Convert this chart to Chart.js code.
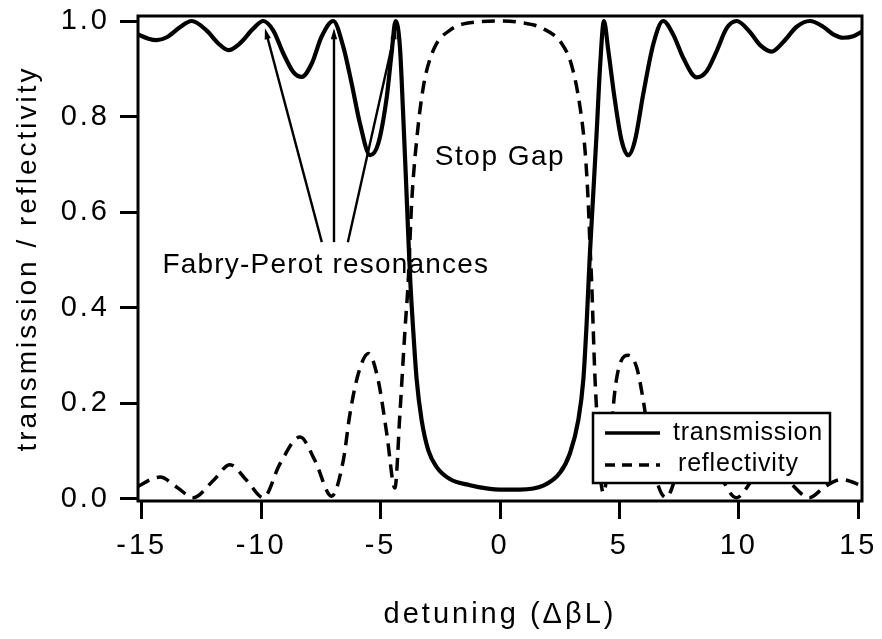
<!DOCTYPE html>
<html>
<head>
<meta charset="utf-8">
<title>transmission / reflectivity</title>
<script src="https://cdn.jsdelivr.net/npm/chart.js@4.4.1/dist/chart.umd.min.js"></script>
<style>
    html, body { margin: 0; padding: 0; background: #fff; }
    #wrap { width: 882px; height: 639px; }
</style>
</head>
<body>
<div id="wrap"><canvas id="fpChart" width="882" height="639"></canvas></div>
<script>
const xTicks = [-15, -10, -5, 0, 5, 10, 15];
const yTicks = [0, 0.2, 0.4, 0.6, 0.8, 1.0];

const seriesLabels = ["transmission", "reflectivity"];

// transmission (solid)
const transX = [-15.155, -15.07, -14.72, -14.37, -13.95, -13.4, -12.91, -12.28, -11.79, -11.37,
    -10.89, -10.33, -9.91, -9.49, -9.07, -8.65, -8.3, -7.88, -7.47, -6.98,
    -6.56, -6.21, -5.86, -5.44, -5.1, -4.74, -4.54, -4.37, -4.19, -4.05,
    -3.93, -3.84, -3.75, -3.63, -3.49, -3.28, -3.0, -2.65, -2.1, -1.26,
    -0.5, 0, 0.84, 1.81, 2.51, 2.93, 3.28, 3.49, 3.63, 3.76,
    3.9, 4.05, 4.19, 4.35, 4.53, 4.81, 5.09, 5.37, 5.65, 6.0,
    6.42, 6.83, 7.25, 7.67, 8.23, 8.65, 9.07, 9.49, 9.91, 10.46,
    10.88, 11.37, 11.86, 12.42, 12.97, 13.53, 13.95, 14.37, 14.79, 15.155];
const transY = [0.972, 0.970, 0.963, 0.960, 0.966, 0.987, 1.0, 0.980, 0.953, 0.939,
    0.953, 0.984, 1.0, 0.980, 0.932, 0.893, 0.883, 0.911, 0.967, 1.0,
    0.946, 0.869, 0.785, 0.719, 0.743, 0.841, 0.932, 1.0, 0.946, 0.80,
    0.66, 0.55, 0.45, 0.35, 0.25, 0.164, 0.101, 0.066, 0.041, 0.028,
    0.021, 0.019, 0.019, 0.027, 0.054, 0.095, 0.165, 0.25, 0.37, 0.51,
    0.635, 0.77, 0.905, 1.0, 0.94, 0.834, 0.75, 0.719, 0.75, 0.848,
    0.952, 1.0, 0.972, 0.923, 0.882, 0.895, 0.937, 0.985, 1.0, 0.977,
    0.95, 0.936, 0.956, 0.988, 1.0, 0.988, 0.972, 0.965, 0.968, 0.978];

// reflectivity (dashed); the part behind the legend box is estimated
const reflX = [-15.155, -15.07, -14.23, -13.53, -12.84, -12.0, -11.3, -10.6, -9.91, -9.21,
    -8.37, -7.75, -7.05, -6.56, -6.28, -5.93, -5.51, -5.1, -4.74, -4.4,
    -4.19, -3.98, -3.84, -3.7, -3.49, -3.21, -2.79, -2.09, -0.98, 0,
    0.84, 1.81, 2.58, 3.0, 3.35, 3.56, 3.69, 3.77, 3.84, 3.9,
    3.97, 4.05, 4.18, 4.33, 4.55, 4.81, 5.02, 5.37, 5.72, 6.0,
    6.4, 6.95, 7.6, 8.3, 9.0, 9.9, 10.6, 11.35, 12.1, 12.95,
    13.6, 14.3, 15.155];
const reflY = [0.025, 0.028, 0.045, 0.024, 0.002, 0.038, 0.071, 0.038, 0.002, 0.073,
    0.129, 0.08, 0.005, 0.08, 0.178, 0.262, 0.304, 0.248, 0.136, 0.022,
    0.178, 0.352, 0.457, 0.618, 0.75, 0.862, 0.939, 0.981, 0.998, 1.0,
    0.997, 0.984, 0.953, 0.907, 0.82, 0.729, 0.625, 0.527, 0.45, 0.36,
    0.26, 0.18, 0.06, 0.012, 0.08, 0.226, 0.282, 0.3, 0.275, 0.205,
    0.07, 0.002, 0.08, 0.125, 0.07, 0.002, 0.04, 0.065, 0.035, 0.002,
    0.025, 0.04, 0.027];

const FONT = "'Liberation Sans', Arial, Helvetica, sans-serif";

// annotation anchors in data units
const arrows = [
    { from: [-7.46, 0.537], to: [-9.84, 0.985] },
    { from: [-6.95, 0.537], to: [-6.95, 0.985] },
    { from: [-6.37, 0.537], to: [-4.36, 0.985] }
];
const notes = [
    { text: "Stop Gap", at: [0, 0.714], spacing: "1.5px" },
    { text: "Fabry-Perot resonances", at: [-7.29, 0.489], spacing: "1.2px" }
];

function toPoints(xs, ys) {
    return xs.map((x, i) => ({ x: x, y: ys[i] }));
}

const extras = {
    id: "extras",
    beforeDraw(chart) {
        // the old plot software used loose letter spacing
        chart.ctx.letterSpacing = "3px";
    },
    afterDatasetsDraw(chart) {
        const { ctx, chartArea: a, scales: { x, y } } = chart;
        ctx.save();
        ctx.strokeStyle = "#000";
        ctx.fillStyle = "#000";

        // arrows to the resonances
        ctx.lineWidth = 2.4;
        arrows.forEach(ar => {
            const x0 = x.getPixelForValue(ar.from[0]), y0 = y.getPixelForValue(ar.from[1]);
            const x1 = x.getPixelForValue(ar.to[0]), y1 = y.getPixelForValue(ar.to[1]);
            const ang = Math.atan2(y1 - y0, x1 - x0);
            const c = Math.cos(ang), s = Math.sin(ang);
            ctx.beginPath();
            ctx.moveTo(x0, y0);
            ctx.lineTo(x1 - 8 * c, y1 - 8 * s);
            ctx.stroke();
            ctx.beginPath();
            ctx.moveTo(x1, y1);
            ctx.lineTo(x1 - 11 * c + 3.2 * s, y1 - 11 * s - 3.2 * c);
            ctx.lineTo(x1 - 11 * c - 3.2 * s, y1 - 11 * s + 3.2 * c);
            ctx.closePath();
            ctx.fill();
        });

        ctx.font = "28px " + FONT;
        ctx.textAlign = "center";
        ctx.textBaseline = "middle";
        notes.forEach(n => {
            ctx.letterSpacing = n.spacing;
            ctx.fillText(n.text, x.getPixelForValue(n.at[0]), y.getPixelForValue(n.at[1]));
        });

        // legend box, covers the lines under it
        const bx = a.right - 269, by = a.bottom - 88, bw = 237, bh = 70;
        ctx.fillStyle = "#fff";
        ctx.fillRect(bx, by, bw, bh);
        ctx.lineWidth = 2.5;
        ctx.strokeRect(bx, by, bw, bh);
        ctx.fillStyle = "#000";

        ctx.lineWidth = 3.5;
        ctx.beginPath();
        ctx.moveTo(bx + 12, by + 20);
        ctx.lineTo(bx + 67, by + 20);
        ctx.stroke();
        ctx.setLineDash([10, 7]);
        ctx.beginPath();
        ctx.moveTo(bx + 12, by + 52);
        ctx.lineTo(bx + 67, by + 52);
        ctx.stroke();
        ctx.setLineDash([]);

        ctx.font = "25px " + FONT;
        ctx.textAlign = "left";
        ctx.letterSpacing = "0.8px";
        ctx.fillText(chart.data.datasets[0].label, bx + 80, by + 20);
        ctx.fillText(chart.data.datasets[1].label, bx + 85, by + 51);

        // plot frame
        ctx.lineWidth = 3;
        ctx.strokeRect(a.left, a.top, a.right - a.left, a.bottom - a.top);
        ctx.restore();
    },
    afterDraw(chart) {
        chart.ctx.letterSpacing = "0px";
    }
};

function drawChart() {
    const ctx = document.getElementById("fpChart").getContext("2d");

    new Chart(ctx, {
        type: "line",
        data: {
            datasets: [{
                label: seriesLabels[0],
                data: toPoints(transX, transY),
                borderColor: "#000",
                borderWidth: 4.2,
                pointRadius: 0,
                pointHitRadius: 0,
                fill: false,
                cubicInterpolationMode: "monotone"
            }, {
                label: seriesLabels[1],
                data: toPoints(reflX, reflY),
                borderColor: "#000",
                borderWidth: 3.5,
                borderDash: [13, 8],
                pointRadius: 0,
                pointHitRadius: 0,
                fill: false,
                cubicInterpolationMode: "monotone"
            }]
        },
        options: {
            responsive: false,
            animation: false,
            events: [],
            layout: { padding: { top: 16, right: 20, left: 0, bottom: 0 } },
            plugins: {
                legend: { display: false },
                tooltip: { enabled: false }
            },
            scales: {
                x: {
                    type: "linear",
                    min: -15.155,
                    max: 15.155,
                    afterFit(scale) {
                        scale.height = 138;
                        scale.paddingLeft = 0;
                        scale.paddingRight = 0;
                    },
                    afterBuildTicks(scale) { scale.ticks = xTicks.map(v => ({ value: v })); },
                    ticks: {
                        color: "#000",
                        font: { family: FONT, size: 29 },
                        padding: 10,
                        maxRotation: 0,
                        autoSkip: false,
                        callback: v => String(v)
                    },
                    grid: { drawOnChartArea: false, tickLength: 18, tickWidth: 3, color: "#000" },
                    border: { display: false },
                    title: {
                        display: true,
                        text: "detuning (ΔβL)",
                        color: "#000",
                        font: { family: FONT, size: 29 },
                        padding: { top: 0, bottom: 7 }
                    }
                },
                y: {
                    min: -0.005,
                    max: 1.0105,
                    afterFit(scale) {
                        scale.width = 138;
                        scale.paddingTop = 0;
                        scale.paddingBottom = 0;
                    },
                    afterBuildTicks(scale) { scale.ticks = yTicks.map(v => ({ value: v })); },
                    ticks: {
                        color: "#000",
                        font: { family: FONT, size: 29 },
                        padding: 10,
                        callback: v => v.toFixed(1)
                    },
                    grid: { drawOnChartArea: false, tickLength: 18, tickWidth: 3, color: "#000" },
                    border: { display: false },
                    title: {
                        display: true,
                        text: "transmission / reflectivity",
                        color: "#000",
                        font: { family: FONT, size: 28 },
                        padding: { top: 11, bottom: 0 }
                    }
                }
            }
        },
        plugins: [extras]
    });
}

window.addEventListener("load", drawChart);
</script>
</body>
</html>
